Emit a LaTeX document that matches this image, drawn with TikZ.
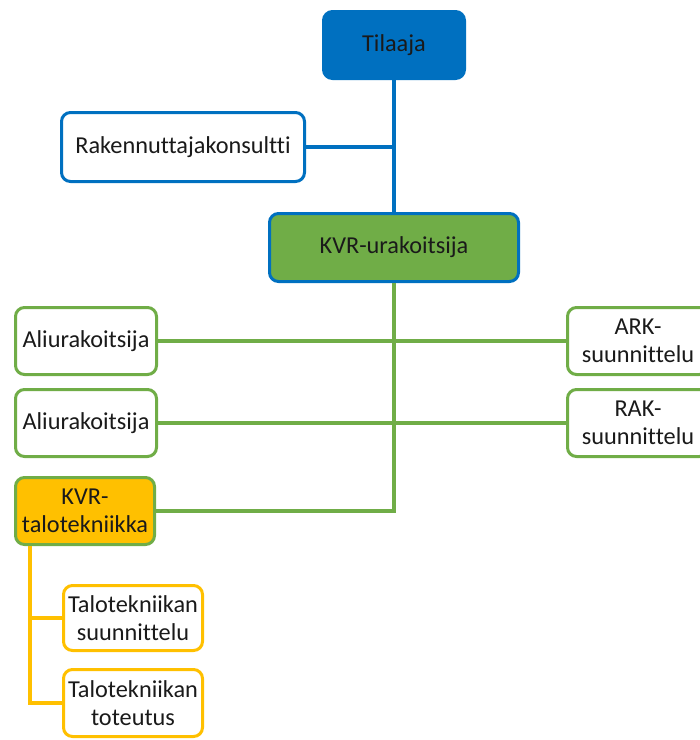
\documentclass[tikz,border=0pt]{standalone}
\usepackage{fontspec}
\setmainfont{Carlito}[Ligatures=NoCommon]
\definecolor{cblue}{HTML}{0070C0}
\definecolor{cgreen}{HTML}{70AD47}
\definecolor{corange}{HTML}{FFC000}
\definecolor{ctext}{HTML}{1A1A1A}
\begin{document}
\begin{tikzpicture}[x=1pt,y=-1pt,
  box/.style={draw, line width=3pt, rounded corners=9pt, align=center,
    text=ctext, font=\fontsize{24.3}{28}\selectfont, inner sep=2pt},
  bluebox/.style={box, draw=cblue, fill=white},
  greenbox/.style={box, draw=cgreen, fill=white},
  orangebox/.style={box, draw=corange, fill=white},
  conn/.style={line width=3.5pt},
]
\useasboundingbox (0,0) rectangle (700,740);
\node[box, draw=cblue, fill=cblue, minimum width=141pt, minimum height=67pt] (til) at (394,45) {Tilaaja};
\node[bluebox, minimum width=243pt, minimum height=69pt] (rak) at (183,147) {Rakennuttajakonsultti};
\node[box, draw=cblue, fill=cgreen, minimum width=249pt, minimum height=68pt] (kvr) at (394,247.5) {KVR-urakoitsija};
\node[greenbox, minimum width=141pt, minimum height=67pt] (ali1) at (86,341) {Aliurakoitsija};
\node[greenbox, minimum width=141pt, minimum height=67pt] (ali2) at (86,423) {Aliurakoitsija};
\node[box, draw=cgreen, fill=corange, minimum width=139pt, minimum height=67pt] (kvrtt) at (85,511) {KVR-\\talotekniikka};
\node[greenbox, minimum width=141pt, minimum height=67pt] (ark) at (638,341) {ARK-\\suunnittelu};
\node[greenbox, minimum width=141pt, minimum height=67pt] (rakS) at (638,423) {RAK-\\suunnittelu};
\node[orangebox, minimum width=139pt, minimum height=65pt] (tts) at (133,618) {Talotekniikan\\suunnittelu};
\node[orangebox, minimum width=139pt, minimum height=67pt] (ttt) at (133,703) {Talotekniikan\\toteutus};
\coordinate (ob) at (30,546);
\draw[conn, draw=cblue] (til.south) -- (kvr.north);
\draw[conn, draw=cblue] (rak.east) -- (rak.east -| til.south);
\draw[conn, draw=cgreen] (kvr.south) |- (kvrtt.east);
\draw[conn, draw=cgreen] (ali1.east) -- (ark.west);
\draw[conn, draw=cgreen] (ali2.east) -- (rakS.west);
\draw[conn, draw=corange] (ob) |- (ttt.west);
\draw[conn, draw=corange] (ob |- tts.west) -- (tts.west);
\end{tikzpicture}
\end{document}
